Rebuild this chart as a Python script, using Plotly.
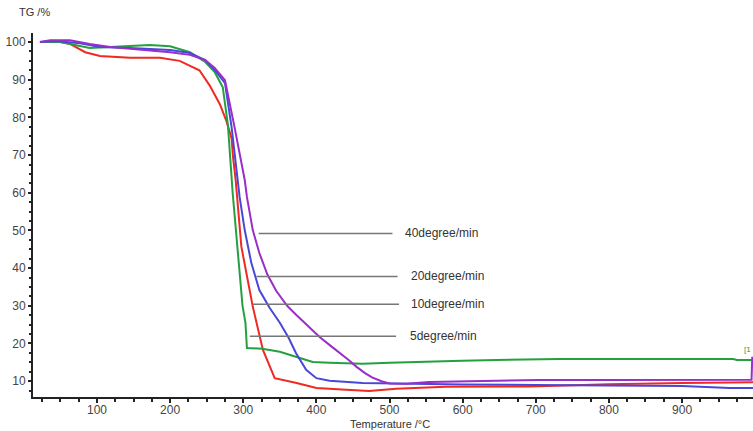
import plotly.graph_objects as go

# ---- data ----
red_x = [22, 50, 63, 84, 104, 145, 186, 213, 240, 254, 268, 277, 284, 286, 289.6, 297.4, 308.7, 313, 326.9, 343, 373, 400, 441, 472, 509, 577, 691, 800, 900, 1000]
red_y = [100, 100, 99.5, 97.3, 96.3, 95.8, 95.8, 95.0, 92.5, 88.5, 83.5, 79.0, 74.5, 69.5, 63.4, 45.7, 34.2, 29.8, 18.3, 10.8, 9.5, 8.2, 7.7, 7.4, 8.0, 8.5, 8.6, 9.2, 9.5, 9.7]

green_x = [22, 50, 70, 90, 118, 172, 200, 227, 248, 261, 272, 279, 285.5, 292, 299, 303, 305, 326, 350, 373, 395, 418, 463, 500, 531, 599, 646, 732, 800, 900, 970, 975, 1000]
green_y = [100, 100, 99.2, 98.4, 98.7, 99.2, 98.9, 97.3, 94.7, 92.0, 88.0, 78.0, 60.0, 45.6, 30.0, 25.5, 18.8, 18.6, 17.8, 16.4, 15.1, 14.9, 14.6, 14.9, 15.1, 15.4, 15.6, 15.9, 15.9, 15.9, 15.9, 15.6, 15.6]

blue_x = [22, 43, 77, 104, 145, 200, 227, 248, 261, 275, 284, 292, 295, 302, 311, 322, 336, 350, 362, 372, 386, 400, 418, 463, 509, 600, 700, 800, 900, 965, 1000]
blue_y = [100, 100.3, 99.7, 98.7, 98.4, 97.9, 97.1, 95.2, 92.6, 89.1, 77.5, 65.0, 58.9, 50.1, 41.4, 34.2, 29.5, 25.5, 21.5, 17.5, 13.0, 10.8, 10.1, 9.5, 9.3, 9.1, 9.0, 8.9, 8.7, 8.2, 8.2]

purple_x = [22, 36, 63, 90, 118, 172, 200, 227, 248, 261, 275, 288, 302, 305, 313, 322, 333, 345, 360, 373, 390, 404, 420, 432, 445, 455, 466, 476, 490, 500, 523, 554, 668, 704, 800, 900, 995, 996]
purple_y = [100, 100.5, 100.5, 99.5, 98.7, 97.9, 97.3, 96.6, 95.2, 93.1, 89.9, 77.5, 63.4, 58.9, 50.1, 44.0, 38.3, 34.0, 30.0, 27.5, 24.5, 21.8, 19.3, 17.5, 15.5, 13.8, 12.2, 11.0, 9.9, 9.4, 9.3, 9.8, 10.1, 10.3, 10.3, 10.4, 10.4, 16.5]

series_names = ["5degree/min", "10degree/min", "20degree/min", "40degree/min"]
series_colors = ["#ee2a22", "#25a040", "#4848d8", "#9a2ec8"]

label_texts = ["40degree/min", "20degree/min", "10degree/min", "5degree/min"]
label_y = [49.2, 37.8, 30.4, 21.9]
label_x0 = [321, 318, 313, 309]
label_x1 = [504, 511, 513, 509]
label_tx = [519, 526, 526, 525]

x_ticks = [100, 200, 300, 400, 500, 600, 700, 800, 900]
y_ticks = [10, 20, 30, 40, 50, 60, 70, 80, 90, 100]

FONT = "Liberation Sans, Arial"

fig = go.Figure()
for xs, ys, name, col in zip([red_x, green_x, blue_x, purple_x],
                             [red_y, green_y, blue_y, purple_y],
                             series_names, series_colors):
    fig.add_trace(go.Scatter(x=xs, y=ys, mode="lines", name=name,
                             line=dict(color=col, width=2),
                             showlegend=False))

for t, y, x0, x1, tx in zip(label_texts, label_y, label_x0, label_x1, label_tx):
    fig.add_shape(type="line", x0=x0, x1=x1, y0=y, y1=y, xref="x", yref="y",
                  line=dict(color="#777777", width=1.5))
    fig.add_annotation(x=tx, y=y, text=t, showarrow=False, xanchor="left", yanchor="middle",
                       font=dict(family=FONT, size=12, color="#333333"))

fig.add_annotation(xref="paper", yref="y", x=1.0, y=18.5, text="[1", showarrow=False,
                   xanchor="right", yanchor="middle",
                   font=dict(family=FONT, size=8, color="#25a040"))

fig.add_annotation(xref="paper", yref="paper", x=-0.022, y=1.058, text="TG /%", showarrow=False,
                   xanchor="left", yanchor="middle",
                   font=dict(family=FONT, size=11, color="#333333"))

fig.add_annotation(xref="paper", yref="paper", x=0.496, y=-0.075, text="Temperature /°C",
                   showarrow=False, xanchor="center", yanchor="middle",
                   font=dict(family=FONT, size=11, color="#333333"))

font = dict(family=FONT, size=12, color="#444444")
fig.update_layout(
    width=753, height=431,
    margin=dict(l=33, r=0, t=33, b=34, autoexpand=False),
    plot_bgcolor="white", paper_bgcolor="white",
    font=font,
    xaxis=dict(range=[12.5, 997], tickvals=x_ticks, showgrid=False, zeroline=False,
               automargin=False, ticklabelstandoff=-3,
               showline=True, linecolor="#222222", linewidth=2,
               ticks="outside", ticklen=4, tickwidth=1.5, tickcolor="#222222",
               minor=dict(dtick=25, tick0=0, ticks="outside", ticklen=3, tickcolor="#222222"),
               tickfont=font),
    yaxis=dict(range=[5.8, 102.4], tickvals=y_ticks, showgrid=False, zeroline=False,
               automargin=False,
               showline=True, linecolor="#222222", linewidth=2,
               ticks="outside", ticklen=3, tickwidth=1.5, tickcolor="#222222",
               minor=dict(dtick=2.5, tick0=0, ticks="outside", ticklen=2, tickcolor="#222222"),
               tickfont=font),
)

fig.write_html("out.html", config={"displayModeBar": False},
               post_script="document.body.style.margin='0';document.body.style.overflow='hidden';")
